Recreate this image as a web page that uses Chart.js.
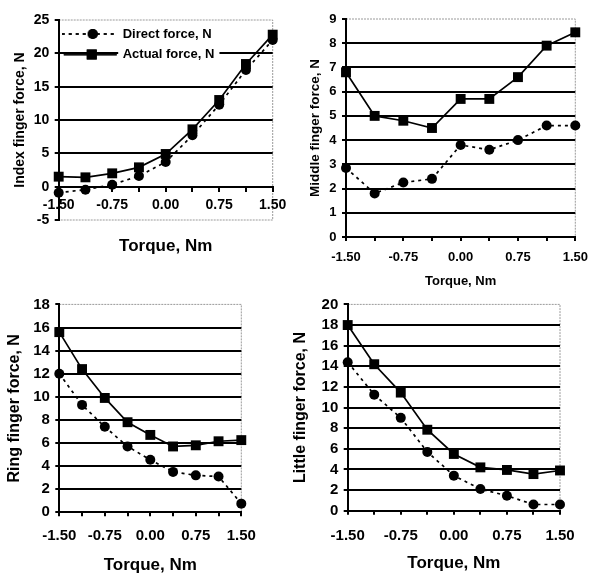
<!DOCTYPE html>
<html><head><meta charset="utf-8">
<script src="https://cdn.jsdelivr.net/npm/chart.js@4/dist/chart.umd.min.js"></script>
<style>
html,body{margin:0;padding:0;background:#fff;}
#wrap{position:relative;width:600px;height:587px;background:#fff;overflow:hidden;}
canvas{position:absolute;}
</style></head><body>
<div id="wrap">
<canvas id="c1" width="300" height="290" style="left:0;top:0;width:300px;height:290px"></canvas>
<canvas id="c2" width="300" height="290" style="left:300px;top:0;width:300px;height:290px"></canvas>
<canvas id="c3" width="300" height="297" style="left:0;top:290px;width:300px;height:297px"></canvas>
<canvas id="c4" width="310" height="297" style="left:290px;top:290px;width:310px;height:297px"></canvas>
</div>
<script>
// ---- data ----
const torque = [-1.5, -1.125, -0.75, -0.375, 0, 0.375, 0.75, 1.125, 1.5];
const xTickLabels = ['-1.50', '-0.75', '0.00', '0.75', '1.50'];
const seriesNames = ['Direct force, N', 'Actual force, N'];
const xTitle = 'Torque, Nm';

const indexDirect  = [-0.9, -0.45, 0.3, 1.6, 3.7, 7.7, 12.3, 17.5, 22.0];
const indexActual  = [1.5, 1.4, 2.0, 2.9, 4.9, 8.6, 13.0, 18.4, 22.8];
const indexTicks   = [-5, 0, 5, 10, 15, 20, 25];

const middleDirect = [2.85, 1.8, 2.25, 2.4, 3.8, 3.6, 4.0, 4.6, 4.6];
const middleActual = [6.8, 5.0, 4.8, 4.5, 5.7, 5.7, 6.6, 7.9, 8.45];
const middleTicks  = [0, 1, 2, 3, 4, 5, 6, 7, 8, 9];

const ringDirect   = [12.0, 9.3, 7.4, 5.7, 4.55, 3.5, 3.2, 3.1, 0.75];
const ringActual   = [15.6, 12.4, 9.9, 7.8, 6.7, 5.7, 5.8, 6.15, 6.25];
const ringTicks    = [0, 2, 4, 6, 8, 10, 12, 14, 16, 18];

const littleDirect = [14.4, 11.25, 9.0, 5.7, 3.4, 2.1, 1.45, 0.6, 0.6];
const littleActual = [18.0, 14.2, 11.45, 7.85, 5.5, 4.2, 3.95, 3.55, 3.9];
const littleTicks  = [0, 2, 4, 6, 8, 10, 12, 14, 16, 18, 20];

// ---- styling ----
Chart.defaults.font.family = "'Liberation Sans', Arial, sans-serif";
Chart.defaults.font.weight = 'bold';
Chart.defaults.color = '#000';

function makeIcon(kind) {
  const c = document.createElement('canvas');
  c.width = 59; c.height = 14;
  const g = c.getContext('2d');
  g.strokeStyle = '#000'; g.fillStyle = '#000'; g.lineWidth = 1.7;
  g.beginPath();
  if (kind === 'direct') g.setLineDash([3, 4]);
  g.moveTo(kind === 'direct' ? 0 : 2, 7); g.lineTo(55, 7); g.stroke();
  g.setLineDash([]);
  if (kind === 'direct') { g.beginPath(); g.arc(31, 7, 5, 0, Math.PI * 2); g.fill(); }
  else { g.fillRect(25, 2, 10, 10); }
  return c;
}
const legendIcons = [makeIcon('direct'), makeIcon('actual')];

const framePlugin = {
  id: 'frame',
  beforeDraw(chart) {
    const {ctx, chartArea: a} = chart;
    ctx.save();
    ctx.strokeStyle = '#9a9a9a'; ctx.lineWidth = 1; ctx.setLineDash([2, 1]);
    ctx.beginPath();
    ctx.moveTo(a.left, a.top); ctx.lineTo(a.right, a.top);
    ctx.lineTo(a.right, a.bottom); ctx.lineTo(a.left, a.bottom);
    ctx.stroke();
    ctx.restore();
  }
};

const legendPlace = {
  id: 'legendPlace',
  afterLayout(chart) {
    const lg = chart.legend;
    if (!lg || !lg.options.display) return;
    const a = chart.chartArea;
    lg.left = a.left; lg.top = a.top;
    lg.right = a.left + lg.width; lg.bottom = a.top + lg.height;
  },
  beforeDatasetsDraw(chart) {
    const lg = chart.legend;
    if (!lg || !lg.options.display || !lg.legendHitBoxes) return;
    const ctx = chart.ctx;
    const bw = lg.options.labels.pointStyleWidth;
    ctx.save(); ctx.fillStyle = '#fff';
    lg.legendHitBoxes.forEach(h => ctx.fillRect(h.left + bw + 2, h.top - 2, h.width - bw + 3, h.height + 4));
    ctx.restore();
    lg.draw(chart.chartArea);
  }
};

function xLabel(v) {
  const s = xTickLabels.find(t => Math.abs(parseFloat(t) - v) < 1e-6);
  return s === undefined ? '' : s;
}

function makePanel(id, p) {
  const yMin = p.yTicks[0], yMax = p.yTicks[p.yTicks.length - 1], yStep = p.yTicks[1] - p.yTicks[0];
  const pts = arr => torque.map((t, i) => ({x: t, y: arr[i]}));
  const defGen = Chart.defaults.plugins.legend.labels.generateLabels;
  return new Chart(document.getElementById(id), {
    type: 'line',
    data: {
      datasets: [
        { label: seriesNames[0], data: pts(p.direct), borderColor: '#000', backgroundColor: '#000',
          borderWidth: 1.7, borderDash: [3, 4], pointStyle: 'circle', pointRadius: 5,
          pointBackgroundColor: '#000', pointBorderColor: '#000', pointBorderWidth: 0, tension: 0, clip: false },
        { label: seriesNames[1], data: pts(p.actual), borderColor: '#000', backgroundColor: '#000',
          borderWidth: 1.7, pointStyle: 'rect', pointRadius: 7,
          pointBackgroundColor: '#000', pointBorderColor: '#000', pointBorderWidth: 0, tension: 0, clip: false }
      ]
    },
    options: {
      responsive: false, animation: false, devicePixelRatio: 1,
      layout: { padding: p.pad },
      scales: {
        x: {
          type: 'linear', min: torque[0], max: torque[torque.length - 1],
          position: p.xAtZero ? {y: 0} : 'bottom',
          ticks: { stepSize: 0.375, autoSkip: false, maxRotation: 0, minRotation: 0,
                   padding: p.xTickPad, font: {size: p.tickSize, weight: 'bold'}, color: '#000',
                   callback: v => xLabel(v) },
          grid: { drawOnChartArea: false, drawTicks: true, tickLength: 4, color: '#000', lineWidth: 2 },
          border: { color: '#000', width: 2 },
          title: { display: !p.xAtZero, text: xTitle, color: '#000',
                   font: {size: p.xTitleSize, weight: 'bold'}, padding: {top: 0, bottom: p.xTitlePad} },
          afterFit: s => { if (!p.xAtZero) s.height = p.xHeight; }
        },
        y: {
          min: yMin, max: yMax,
          ticks: { stepSize: yStep, autoSkip: false, padding: 5.4, font: {size: p.tickSize, weight: 'bold'}, color: '#000' },
          grid: { color: c => (c.tick && (c.tick.value === yMax || c.tick.value === yMin)) ? 'rgba(0,0,0,0)' : '#000',
                  lineWidth: 2, tickColor: '#000', tickLength: 4 },
          border: { color: '#000', width: 2 },
          title: { display: true, text: p.yTitle, color: '#000',
                   font: {size: p.yTitleSize, weight: 'bold'}, padding: {top: p.yTitlePad, bottom: 0} },
          afterFit: s => { s.width = p.yWidth; }
        }
      },
      plugins: {
        tooltip: { enabled: false },
        legend: {
          display: !!p.legend, position: 'chartArea', align: 'start',
          labels: { usePointStyle: true, pointStyleWidth: 50, padding: 7.5, color: '#000',
                    font: {size: 13, weight: 'bold'},
                    generateLabels(chart) {
                      const items = defGen(chart);
                      items.forEach((it, i) => { it.pointStyle = legendIcons[i]; });
                      return items;
                    } }
        },
        title: {
          display: !!p.xAtZero, text: xTitle, position: 'bottom', fullSize: false, color: '#000',
          font: {size: 17, weight: 'bold'}, padding: {top: 16.6, bottom: 33}
        }
      }
    },
    plugins: [framePlugin, legendPlace]
  });
}

makePanel('c1', { direct: indexDirect, actual: indexActual, yTicks: indexTicks,
  yTitle: 'Index finger force, N', yTitleSize: 14, yTitlePad: 11.6, yWidth: 58.7,
  tickSize: 14, xAtZero: true, xTickPad: 6, legend: true,
  pad: {left: 0, top: 20, right: 27.3, bottom: 0} });

makePanel('c2', { direct: middleDirect, actual: middleActual, yTicks: middleTicks,
  yTitle: 'Middle finger force, N', yTitleSize: 13.5, yTitlePad: 6.9, yWidth: 46,
  tickSize: 13, xTickPad: 9, xHeight: 53, xTitleSize: 13, xTitlePad: 1.2,
  pad: {left: 0, top: 19, right: 24.7, bottom: 0} });

makePanel('c3', { direct: ringDirect, actual: ringActual, yTicks: ringTicks,
  yTitle: 'Ring finger force, N', yTitleSize: 16, yTitlePad: 5.4, yWidth: 59.3,
  tickSize: 15, xTickPad: 11, xHeight: 74.7, xTitleSize: 17, xTitlePad: 11.8,
  pad: {left: 0, top: 11.7, right: 58.7, bottom: 0} });

makePanel('c4', { direct: littleDirect, actual: littleActual, yTicks: littleTicks,
  yTitle: 'Little finger force, N', yTitleSize: 16, yTitlePad: 1.4, yWidth: 57.7,
  tickSize: 15, xTickPad: 12, xHeight: 76.3, xTitleSize: 17, xTitlePad: 13.5,
  pad: {left: 0, top: 11, right: 40, bottom: 0} });
</script>
</body></html>
